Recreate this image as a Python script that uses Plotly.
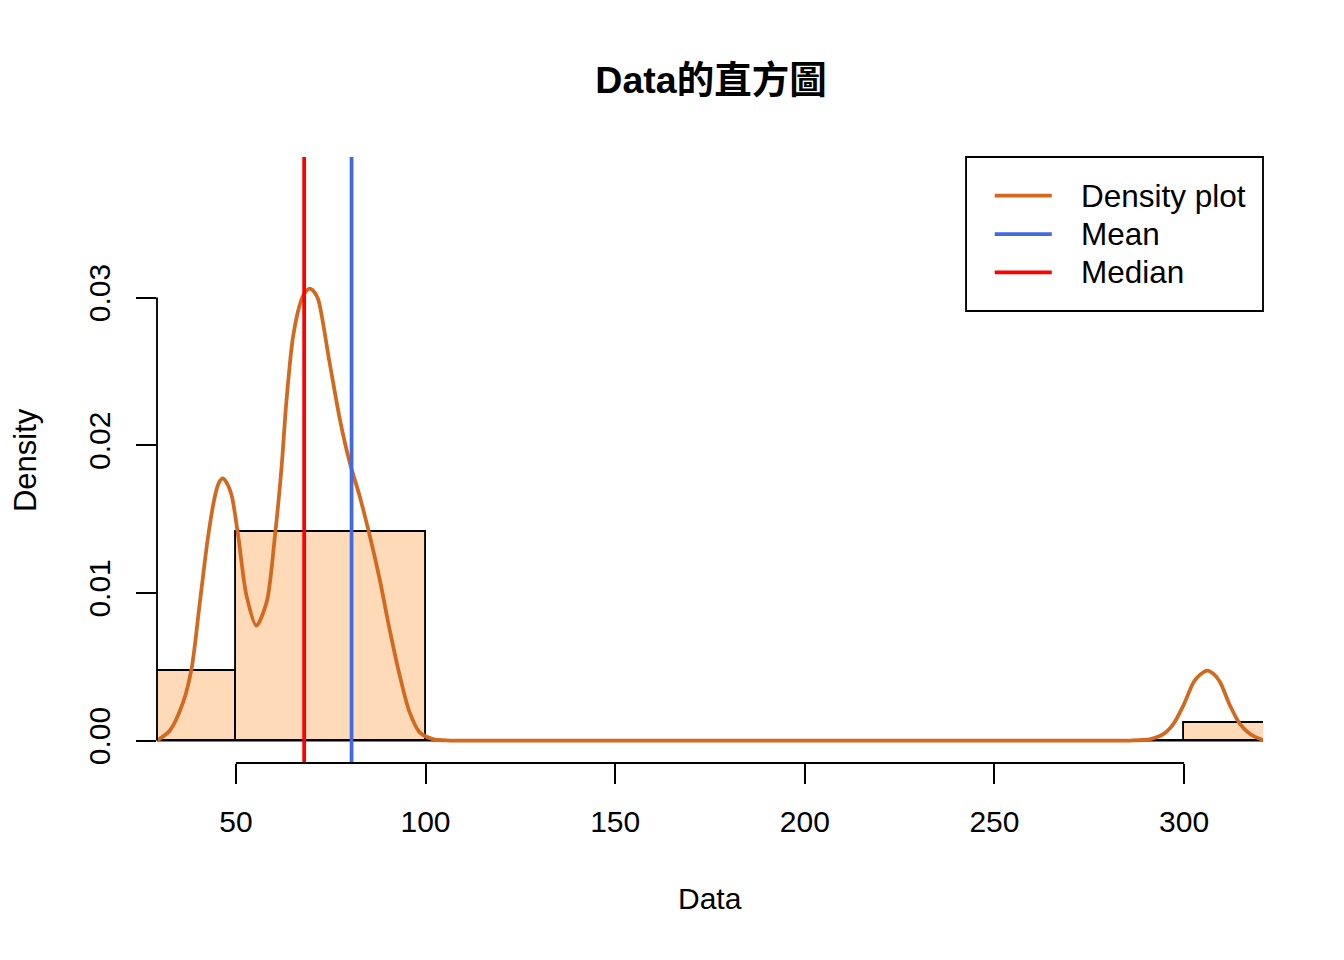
import plotly.graph_objects as go

# ---------------- data ----------------
breaks = [0, 50, 100, 150, 200, 250, 300, 350]
bin_density = [0.00471, 0.01412, 0.0, 0.0, 0.0, 0.0, 0.00118]

dens_x = [29.2, 32.6, 36.1, 38.3, 40.5, 42.7, 44.5, 45.5, 46.5, 47.6, 48.9, 50.6, 52.8,
          55.4, 58.1, 60.3, 62.0, 63.3, 65.1, 67.3, 68.4, 69.5, 70.6, 71.7, 74.7, 77.4,
          80.0, 82.6, 85.3, 87.9, 90.5, 93.2, 95.8, 98.4, 101.9, 106.3, 112, 125, 150,
          200, 250, 270, 280, 285.8, 291.1, 294.6, 297.2, 299.8, 302.5, 304.3, 306.1,
          307.9, 309.5, 312.1, 314.7, 317.4, 320.8]
dens_y = [0.0, 0.00068, 0.0026, 0.00485, 0.00936, 0.01387, 0.01658, 0.01745, 0.01775,
          0.01745, 0.01658, 0.01387, 0.00981, 0.00778, 0.00936, 0.01387, 0.01838, 0.0229,
          0.0274, 0.02988, 0.0304, 0.0306, 0.0304, 0.02988, 0.0256, 0.02177, 0.01884,
          0.01658, 0.01387, 0.01094, 0.00756, 0.0044, 0.00192, 0.00057, 0.0001, 0.0,
          0.0, 0.0, 0.0, 0.0, 0.0, 0.0, 0.0, 0.0, 0.0001, 0.00045, 0.00113, 0.00237,
          0.00395, 0.00448, 0.00474, 0.00448, 0.00395, 0.00237, 0.00113, 0.00045, 0.00003]

mean_value = 80.5
median_value = 68.0

x_ticks = [50, 100, 150, 200, 250, 300]
y_ticks = [0.0, 0.01, 0.02, 0.03]
y_ticktext = ["0.00", "0.01", "0.02", "0.03"]

legend_labels = ["Density plot", "Mean", "Median"]
legend_colors = ["#D2691E", "#4169E1", "#FF0000"]

title_text = "Data的直方圖"
x_title = "Data"
y_title = "Density"

# ---------------- style ----------------
FONT = "Liberation Sans, Arial, Helvetica, sans-serif"
CJK_FONT = "Liberation Sans, Noto Sans CJK TC, sans-serif"
LW = 1.875
CURVE_W = 3.75
FS = 30

fig = go.Figure()

# histogram bars
centers = [(breaks[i] + breaks[i + 1]) / 2 for i in range(len(bin_density))]
widths = [breaks[i + 1] - breaks[i] for i in range(len(bin_density))]
fig.add_trace(go.Bar(
    x=centers, y=bin_density, width=widths,
    marker=dict(color="#FFDAB9", line=dict(color="black", width=LW)),
    hoverinfo="skip", showlegend=False,
))
# zero-height bins appear as a baseline in R
fig.add_trace(go.Scatter(
    x=[breaks[0], breaks[-1]], y=[0, 0], mode="lines",
    line=dict(color="black", width=LW), hoverinfo="skip", showlegend=False,
))
# density curve
fig.add_trace(go.Scatter(
    x=dens_x, y=dens_y, mode="lines",
    line=dict(color=legend_colors[0], width=CURVE_W, shape="spline", smoothing=0.8),
    name=legend_labels[0], showlegend=False,
))

shapes = []
# mean / median vertical lines (full plot height)
for val, col in [(mean_value, legend_colors[1]), (median_value, legend_colors[2])]:
    shapes.append(dict(type="line", xref="x", yref="paper", x0=val, x1=val, y0=0, y1=1,
                       line=dict(color=col, width=CURVE_W), layer="above"))

# R-style axis lines spanning first..last tick
shapes.append(dict(type="line", xref="x", yref="paper", x0=min(x_ticks), x1=max(x_ticks),
                   y0=0, y1=0, line=dict(color="black", width=LW)))
shapes.append(dict(type="line", xref="paper", yref="y", x0=0, x1=0,
                   y0=min(y_ticks), y1=max(y_ticks), line=dict(color="black", width=LW)))

# custom legend box (R legend "topright")
shapes.append(dict(type="rect", xref="paper", yref="paper", x0=0.7315, x1=1.0, y0=0.7459, y1=1.0,
                   line=dict(color="black", width=LW), fillcolor="white", layer="above"))
annotations = []
legend_rows = [0.9361, 0.8729, 0.8097]
for lab, col, yy in zip(legend_labels, legend_colors, legend_rows):
    shapes.append(dict(type="line", xref="paper", yref="paper", x0=0.7574, x1=0.8090,
                       y0=yy, y1=yy, line=dict(color=col, width=CURVE_W), layer="above"))
    annotations.append(dict(xref="paper", yref="paper", x=0.8334, y=yy, xanchor="left",
                            yanchor="middle", text=lab, showarrow=False,
                            font=dict(family=FONT, size=31.5, color="black")))

# axis titles
annotations.append(dict(xref="paper", yref="paper", x=0.5, y=-0.2244, xanchor="center",
                        yanchor="middle", text=x_title, showarrow=False,
                        font=dict(family=FONT, size=FS, color="black")))
annotations.append(dict(xref="paper", yref="paper", x=-0.1193, y=0.5, xanchor="center",
                        yanchor="middle", text=y_title, textangle=-90, showarrow=False,
                        font=dict(family=FONT, size=31, color="black")))

# the page body has an 8px margin, so the figure is 8px smaller and margins shifted
fig.update_layout(
    width=1336, height=952,
    margin=dict(l=149, r=81, t=149, b=197, autoexpand=False),
    plot_bgcolor="white", paper_bgcolor="white",
    showlegend=False, bargap=0,
    title=dict(text="<b>" + title_text + "</b>", x=(711 - 8) / 1336, xanchor="center",
               y=1 - (80 - 8) / 952, yanchor="middle",
               font=dict(family=CJK_FONT, size=37.5, color="black")),
    shapes=shapes, annotations=annotations,
    xaxis=dict(range=[29.2, 320.8], tickvals=x_ticks, ticks="outside", ticklen=20,
               tickwidth=LW, tickcolor="black", showgrid=False, zeroline=False,
               showline=False, automargin=False, ticklabelstandoff=12,
               tickfont=dict(family=FONT, size=FS, color="black")),
    yaxis=dict(range=[-0.00152, 0.03952], tickvals=y_ticks, ticktext=y_ticktext,
               tickangle=-90, ticks="outside", ticklen=20, tickwidth=LW, tickcolor="black",
               showgrid=False, zeroline=False, showline=False, automargin=False,
               ticklabelstandoff=14,
               tickfont=dict(family=FONT, size=FS, color="black")),
)

fig.write_html("out.html")
